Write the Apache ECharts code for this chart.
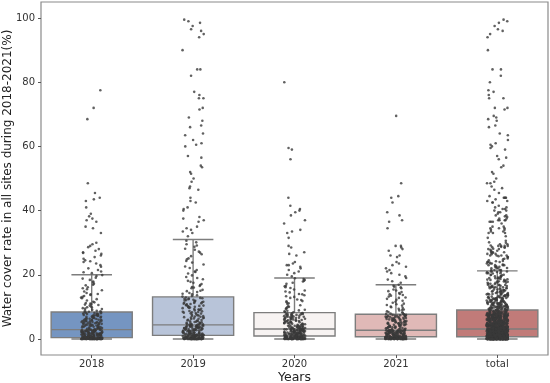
<!DOCTYPE html>
<html><head><meta charset="utf-8">
<script src="https://cdn.jsdelivr.net/npm/echarts@6/dist/echarts.min.js"></script>
<style>html,body{margin:0;padding:0;background:#fff}#c{width:550px;height:383px}</style>
</head><body><div id="c"></div>
<script>
const categories = ['2018', '2019', '2020', '2021', 'total'];
const yTicks = [0, 20, 40, 60, 80, 100];
const boxMin = [0, 0, 0, 0, 0];
const boxQ1 = [0.4, 1.1, 0.9, 0.7, 0.7];
const boxMedian = [2.9, 4.4, 3.1, 2.7, 3.1];
const boxQ3 = [8.4, 13.1, 8.2, 7.7, 9.0];
const boxMax = [20, 31, 19, 16.9, 21.2];

const values2018 = [
0,0.2,0,0.1,0.4,0,0.3,0,0.1,0,0.5,0.2,0,0,0.3,0.1,0,0.4,0,0.2,0.1,0,0,0.3,0.5,0,0.1,0.2,0,0.4,0,0.1,0.3,0,0.2,0,0,0.5,0.1,0,0.3,0.2,0,0.4,0.1,0,0,0.2,0.3,0,0.1,0.5,0,0.2,0,0.4,0.1,0,0.3,0,0.2,0.1,0,0.4,0,0.5,0.1,0.3,0,0.2,0,0.1,0,0.3,0.4,0,0.2,0.1,0,0.5,
0.7,1.9,2.6,1.2,0.9,2.2,1.5,2.9,0.6,1.8,2.4,1.1,0.8,2.7,1.4,2.0,1.6,0.9,2.8,1.3,2.1,0.7,1.7,2.5,1.0,2.3,1.5,0.8,2.9,1.2,1.9,0.6,2.6,1.4,2.0,1.1,2.7,0.9,1.6,2.4,1.3,2.2,0.7,1.8,2.8,1.0,2.5,1.5,0.8,2.1,1.7,2.9,1.2,0.6,2.3,1.4,1.9,2.6,1.1,0.9,2.0,1.6,2.7,1.3,0.7,2.4,1.8,1.0,2.2,2.8,1.5,0.8,2.5,1.2,1.9,2.1,0.6,1.4,2.6,1.7,
3.4,5.8,7.2,4.1,6.6,3.1,8.0,5.2,4.7,7.6,3.8,6.1,5.5,4.3,7.9,3.6,6.9,5.0,4.5,8.2,3.2,6.3,7.4,4.9,5.7,3.9,7.0,6.5,4.2,5.3,3.5,8.1,6.0,4.6,7.7,5.1,3.3,6.8,4.4,7.3,5.9,3.7,6.2,4.8,7.8,5.4,3.0,6.7,4.0,7.5,5.6,3.6,6.4,4.3,7.1,5.0,3.9,8.3,4.7,6.0,5.2,3.4,7.6,4.9,6.6,3.1,5.8,4.1,7.9,5.5,3.8,6.3,4.5,7.2,5.3,3.2,6.9,4.4,7.4,5.7,
8.6,12.4,15.8,9.3,17.6,10.7,19.6,11.2,8.9,14.3,13.1,9.8,16.7,10.1,18.4,12.9,8.5,15.2,11.6,9.5,13.7,19.1,10.4,14.8,8.8,17.2,12.0,9.1,16.1,11.0,13.4,18.8,9.9,15.5,10.9,14.0,8.4,12.7,16.9,11.4,19.9,13.9,9.6,17.9,10.6,
77.5,72,68.5,48.5,45.5,44,43.5,43,41,39,37.5,37,36.5,35,34.5,33,30,29.5,29,28,27.5,27,26.5,26,25.5,25,24.5,24,23.5,23,22.5,22,21.5,21,20.8,20.5,24.2,26.8,28.6,38.2
];
const values2019 = [
0,0.3,0,0.8,0.1,0,0.5,1.0,0,0.2,0.7,0,0.4,0,0.9,0.1,0,0.6,0.3,0,1.1,0,0.2,0.8,0,0.5,0.1,0,0.4,0.9,0,0.3,0,0.7,0.2,0,1.0,0.1,0,0.6,0,0.4,0.8,0,0.2,0,0.5,0.1,0.9,0,0.3,0,0.7,0,1.1,0.2,0,0.4,0.6,0,0.1,0.8,0,0.3,0,0.5,1.0,0,0.2,0.9,0,0.4,0,0.7,0.1,0,0.6,0.3,0,0.5,
1.3,3.6,2.2,4.1,1.7,2.9,3.3,1.2,2.5,4.3,1.9,3.0,2.7,1.5,3.8,2.1,4.0,1.4,3.2,2.4,1.8,3.9,2.8,1.2,3.5,2.0,4.2,1.6,3.1,2.6,1.3,3.7,2.3,4.4,1.9,2.9,3.4,1.5,2.2,4.1,1.7,3.6,2.5,1.1,3.0,2.8,3.9,1.4,2.0,4.3,1.8,3.3,2.6,1.2,3.8,2.3,4.0,1.6,2.7,3.1,1.3,3.5,2.1,4.2,1.9,2.4,3.7,1.5,3.2,2.9,1.1,4.1,2.0,3.4,1.7,2.6,3.9,1.4,2.8,3.6,
5.2,9.8,12.4,6.7,11.1,4.6,8.3,10.5,7.4,12.9,5.9,9.1,6.2,11.8,4.9,8.7,10.0,7.0,12.1,5.5,9.4,6.5,11.4,4.5,8.0,10.8,7.7,12.6,5.7,9.6,6.9,11.0,4.8,8.5,10.2,7.2,12.2,5.1,9.0,6.3,11.6,4.7,8.2,10.6,7.6,12.8,5.4,9.3,6.0,11.3,5.0,8.9,10.4,7.1,12.0,5.8,9.7,6.6,11.9,4.4,8.4,10.9,7.9,12.5,5.3,9.2,6.4,11.2,4.6,8.6,10.1,7.3,12.7,5.6,9.9,6.8,11.5,5.0,8.1,10.3,
13.4,21.5,28.7,16.2,25.1,14.6,30.6,19.3,17.5,23.8,13.9,27.2,20.4,15.3,29.5,18.1,22.6,14.1,26.4,16.8,24.3,13.2,19.8,28.1,15.8,21.0,17.1,25.8,14.9,30.1,18.6,23.2,16.5,27.8,13.6,20.9,22.1,15.0,26.9,19.0,14.3,24.8,17.8,29.1,16.0,
99.5,99,98.5,97.5,96.5,96,95,94,90,84,84,82,77,76,75,75,72,71.5,69,68,66.5,66,64,63.5,62,61,60.5,60,57,56.5,54,53.5,52,51.5,50,49,47.5,47,46.5,44,43,42.5,41,40.5,40,38,37.5,37,36.5,35,34.5,34,33.5,33,32
];
const values2020 = [
0,0.4,0,0.7,0.1,0,0.3,0.9,0,0.2,0.6,0,0.5,0.1,0,0.8,0,0.3,0.2,0,0.7,0.4,0,0.1,0.9,0,0.5,0,0.2,0.6,0,0.3,0.8,0,0.1,0,0.4,0.7,0,0.2,0,0.5,0.9,0,0.1,0.3,0,0.6,0,0.8,0.2,0,0.4,0,0.1,0.7,0,0.5,0.3,0,0.9,0,0.2,0.6,0,0.1,0.4,0,0.8,0,0.3,0.5,0,0.7,0.2,
1.1,2.8,1.6,3.1,2.0,1.3,2.5,1.9,3.0,1.0,2.3,1.7,2.9,1.2,2.6,2.1,1.5,3.2,1.8,2.4,1.0,2.7,1.4,2.2,3.0,1.6,2.0,1.1,2.8,1.9,2.5,1.3,3.1,1.7,2.3,1.5,2.9,1.2,2.6,2.1,1.8,3.0,1.4,2.4,1.0,2.7,1.6,2.2,3.2,1.9,1.3,2.5,1.7,2.8,1.1,2.0,2.9,1.5,2.3,1.2,3.1,1.8,2.6,1.4,2.1,1.0,2.4,1.6,3.0,1.9,2.7,1.3,2.2,1.7,2.5,
3.5,6.8,4.9,7.7,5.6,3.9,7.2,4.3,6.1,8.0,5.0,3.3,6.5,4.6,7.5,5.3,3.7,6.9,4.1,7.9,5.8,3.4,6.3,4.8,7.3,5.1,4.0,6.7,3.6,7.6,5.5,4.4,6.0,3.8,7.0,5.2,4.7,6.6,3.3,7.8,5.9,4.2,6.2,3.5,7.4,5.4,4.5,6.8,3.9,7.1,5.7,4.1,6.4,3.2,8.1,5.0,4.6,6.9,3.7,7.5,5.3,4.3,6.1,3.6,7.7,5.6,4.9,6.6,3.4,7.2,5.8,4.0,6.3,3.8,7.9,
8.4,13.6,17.9,10.2,15.4,9.1,18.7,11.8,8.8,14.5,12.3,16.6,9.6,18.1,10.9,13.1,8.3,15.9,11.4,17.2,9.3,14.0,12.8,16.1,10.5,18.9,8.6,13.9,11.1,15.1,9.8,17.5,12.1,14.8,10.0,16.4,8.9,13.3,11.7,18.4,
80,59.5,59,56,44,41.5,40.5,40,39.5,38.5,37,36,34,33.5,33,31.5,29,28.5,27,26.5,26,24,23.5,23,23,22.5,22,21.5,21,20.5,20,19.5
];
const values2021 = [
0,0.3,0,0.6,0.1,0,0.4,0,0.2,0.7,0,0.5,0.1,0,0.3,0,0.6,0.2,0,0.4,0,0.1,0.7,0,0.3,0.5,0,0.2,0,0.6,0.1,0,0.4,0,0.3,0.7,0,0.2,0.5,0,0.1,0,0.6,0.3,0,0.4,0,0.2,0.7,0,0.1,0.5,0,0.3,0,0.6,0.2,0,0.4,0.1,0,0.7,0,0.3,0.5,0,0.2,0,0.6,0.1,0,0.4,0,0.3,0.5,
0.9,2.4,1.5,2.7,1.1,1.9,2.2,0.8,1.6,2.6,1.3,2.0,0.7,2.5,1.7,1.0,2.3,1.4,2.8,1.8,0.9,2.1,1.2,2.6,1.6,0.8,2.4,1.9,1.1,2.7,1.4,2.0,0.7,2.2,1.7,1.0,2.5,1.3,2.8,1.8,0.9,2.3,1.5,2.0,1.2,2.6,0.8,1.9,2.4,1.1,1.6,2.7,1.4,2.1,0.7,2.5,1.8,1.0,2.2,1.3,2.8,1.7,0.9,2.3,1.5,2.0,1.2,2.6,1.6,0.8,2.4,1.9,1.1,2.1,1.4,
3.1,6.4,4.5,7.3,5.2,3.6,6.9,4.0,5.8,7.5,4.8,3.3,6.1,4.3,7.0,5.0,3.8,6.6,2.9,7.4,5.5,4.1,6.2,3.4,6.8,4.7,5.3,7.2,3.7,6.0,4.4,5.7,3.0,6.5,4.9,7.6,3.5,5.9,4.2,6.7,5.1,3.9,7.1,4.6,6.3,3.2,5.6,4.0,6.9,5.4,3.6,7.3,4.4,6.1,2.9,5.8,4.8,6.6,3.4,7.0,5.2,4.1,6.4,3.8,7.5,5.0,4.5,6.2,3.3,5.5,4.7,6.8,3.5,7.2,5.7,
7.9,11.6,15.8,9.0,13.7,8.3,16.6,10.4,7.7,12.8,11.0,14.9,8.6,16.1,9.7,12.2,7.8,14.3,10.1,15.4,8.9,12.5,11.3,13.9,9.4,16.9,8.1,13.2,10.8,14.6,9.2,15.1,11.9,12.9,8.4,14.0,10.6,16.3,9.9,13.5,
69.5,48.5,44.5,44,42.5,39.5,38.5,37,36.5,34.5,29,29,28.5,28,27.5,26,26,25.5,24,23.5,23,22.5,22,21.5,21,20.5,20,19.5,19,18.5,18,17.5
];
const valuesTotal = [].concat(values2018, values2019, values2020, values2021);
const seriesValues = [values2018, values2019, values2020, values2021, valuesTotal];

const boxColors = ['#7595c1', '#b8c4d9', '#f7f3f2', '#e0b9b7', '#c17b79'];
const edgeColor = '#7d7d7d';
const FONT = 'DejaVu Sans';

function jitter(i, k) {
  const s = Math.sin((i + 1) * 12.9898 + (k + 1) * 78.233) * 43758.5453;
  return (s - Math.floor(s)) - 0.5;
}

const chart = echarts.init(document.getElementById('c'), null, {renderer: 'canvas'});

const boxData = categories.map((c, i) => [i, boxMin[i], boxQ1[i], boxMedian[i], boxQ3[i], boxMax[i]]);

const scatterSeries = seriesValues.map((vals, k) => ({
  type: 'scatter',
  xAxisIndex: 1,
  yAxisIndex: 0,
  symbol: 'circle',
  symbolSize: 2.6,
  z: 5,
  silent: true,
  itemStyle: {color: '#3a3a3a', opacity: 0.8},
  data: vals.map((v, i) => [k + jitter(i, k) * 0.21, v])
}));

chart.setOption({
  animation: false,
  backgroundColor: '#fff',
  grid: {left: 41, right: 2, top: 2, bottom: 28, show: true, borderColor: '#8a8a8a', borderWidth: 1.2, backgroundColor: 'transparent', containLabel: false, outerBoundsMode: 'none'},
  xAxis: [{
    type: 'category',
    data: categories,
    boundaryGap: true,
    axisLine: {show: false, onZero: false},
    axisTick: {show: true, alignWithLabel: true, length: 3, lineStyle: {color: '#555'}},
    axisLabel: {fontFamily: FONT, fontSize: 10, color: '#333', margin: 4},
    splitLine: {show: false},
    name: 'Years',
    nameLocation: 'middle',
    nameGap: 16,
    nameMoveOverlap: false,
    nameTextStyle: {fontFamily: FONT, fontSize: 12.5, color: '#222'}
  }, {
    type: 'value',
    min: -0.5,
    max: 4.5,
    show: false,
    axisLine: {onZero: false}
  }],
  yAxis: [{
    type: 'value',
    min: -5,
    max: 105,
    axisLine: {show: false, onZero: false},
    splitLine: {show: false},
    axisTick: {show: true, length: 3, customValues: yTicks, lineStyle: {color: '#555'}},
    axisLabel: {fontFamily: FONT, fontSize: 10, color: '#333', margin: 6, customValues: yTicks},
    name: 'Water cover rate in all sites during 2018-2021(%)',
    nameLocation: 'middle',
    nameRotate: 90,
    nameGap: 27,
    nameMoveOverlap: false,
    nameTextStyle: {fontFamily: FONT, fontSize: 12, color: '#222'}
  }],
  series: [{
    type: 'custom',
    xAxisIndex: 0,
    yAxisIndex: 0,
    z: 2,
    silent: true,
    data: boxData,
    encode: {x: 0, y: [1, 2, 3, 4, 5]},
    renderItem: function (params, api) {
      const ci = api.value(0);
      const x = api.coord([ci, 0])[0];
      const bw = api.size([1, 0])[0] * 0.8;
      const yMin = api.coord([ci, api.value(1)])[1];
      const yQ1 = api.coord([ci, api.value(2)])[1];
      const yMed = api.coord([ci, api.value(3)])[1];
      const yQ3 = api.coord([ci, api.value(4)])[1];
      const yMax = api.coord([ci, api.value(5)])[1];
      const ls = {stroke: edgeColor, lineWidth: 1.4};
      return {type: 'group', children: [
        {type: 'line', shape: {x1: x, y1: yQ1, x2: x, y2: yMin}, style: ls},
        {type: 'line', shape: {x1: x, y1: yQ3, x2: x, y2: yMax}, style: ls},
        {type: 'line', shape: {x1: x - bw / 4, y1: yMin, x2: x + bw / 4, y2: yMin}, style: ls},
        {type: 'line', shape: {x1: x - bw / 4, y1: yMax, x2: x + bw / 4, y2: yMax}, style: ls},
        {type: 'rect', shape: {x: x - bw / 2, y: yQ3, width: bw, height: yQ1 - yQ3}, style: {fill: boxColors[ci], stroke: edgeColor, lineWidth: 1.4}},
        {type: 'line', shape: {x1: x - bw / 2, y1: yMed, x2: x + bw / 2, y2: yMed}, style: ls}
      ]};
    }
  }].concat(scatterSeries)
});
</script>
</body></html>
